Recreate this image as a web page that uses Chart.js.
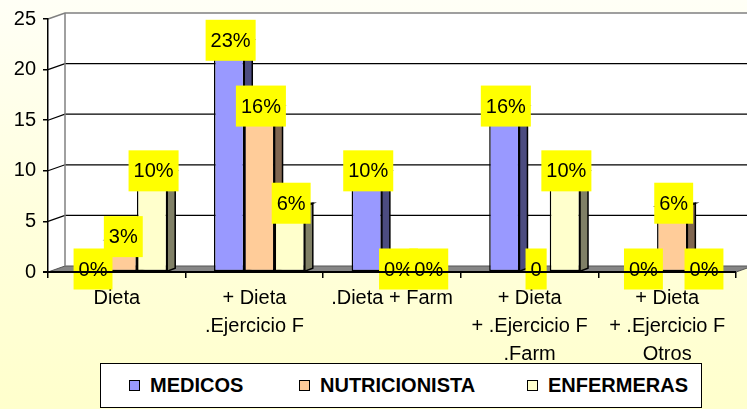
<!DOCTYPE html>
<html>
<head>
<meta charset="utf-8">
<script src="https://cdn.jsdelivr.net/npm/chart.js@4.4.1/dist/chart.umd.min.js"></script>
<style>
html,body{margin:0;padding:0;}
body{width:747px;height:409px;overflow:hidden;position:relative;
background:linear-gradient(180deg,#fffff6 0%,#ffffdc 55%,#ffffcc 100%);
font-family:"Liberation Sans",Arial,sans-serif;}
#chart{position:absolute;left:0;top:0;}
#legend{position:absolute;left:100px;top:363px;width:602px;height:45px;background:#fff;
border:1px solid #000;box-sizing:border-box;}
.item{position:absolute;top:0;height:43px;display:flex;align-items:center;
font-weight:bold;font-size:20px;color:#000;}
.sq{width:9px;height:9px;border:1px solid #000;margin-right:10px;}
</style>
</head>
<body>
<canvas id="chart" width="747" height="409"></canvas>
<div id="legend"></div>
<script>
// data (bar heights in %, labels as printed)
let categories = [
["Dieta"],
["+ Dieta", ".Ejercicio F"],
[".Dieta + Farm"],
["+ Dieta", "+ .Ejercicio F", ".Farm"],
["+ Dieta", "+ .Ejercicio F", "Otros"]
];
let seriesNames = ["MEDICOS", "NUTRICIONISTA", "ENFERMERAS"];
let medicos = [0, 22.6, 9.7, 16.1, 0];
let nutricionista = [3.2, 16.1, 0, 0, 6.5];
let enfermeras = [9.7, 6.5, 0, 9.7, 0];
let medicosLabels = ["0%", "23%", "10%", "16%", "0%"];
let nutricionistaLabels = ["3%", "16%", "0%", "0", "6%"];
let enfermerasLabels = ["10%", "6%", "0%", "10%", "0%"];
let yTicks = [0, 5, 10, 15, 20, 25];

let frontColors = ["#9999ff", "#ffcc99", "#ffffcc"];
let sideColors = ["#4c4c80", "#806650", "#808066"];
let topColors = ["#7a7acc", "#cca37a", "#cccca3"];
let pointLabels = [medicosLabels, nutricionistaLabels, enfermerasLabels];

const FONT = '"Liberation Sans", Arial, sans-serif';
const DX = 17, DY = 6;      // wall depth
const BDX = 8, BDY = 3;     // bar depth
const SHIFT = 5;            // bars sit a bit right in 3d view

// legend
let legend = document.getElementById("legend");
let lefts = [28, 198, 426];
seriesNames.forEach((name, i) => {
let d = document.createElement("div");
d.className = "item";
d.style.left = lefts[i] + "px";
d.innerHTML = '<span class="sq" style="background:' + frontColors[i] + '"></span>' + name;
legend.appendChild(d);
});

const walls = {
id: "walls",
beforeDraw(chart){
const ctx = chart.ctx;
const a = chart.chartArea;
const y = chart.scales.y;
const L = a.left, R = a.right;
const T = y.getPixelForValue(25), B = y.getPixelForValue(0);
ctx.save();
// side + back wall
ctx.fillStyle = "#ffffff";
ctx.beginPath();
ctx.moveTo(L, T);
ctx.lineTo(L + DX, T - DY);
ctx.lineTo(R + DX, T - DY);
ctx.lineTo(R + DX, B - DY);
ctx.lineTo(L, B);
ctx.closePath();
ctx.fill();
// floor
ctx.fillStyle = "#868686";
ctx.beginPath();
ctx.moveTo(L, B);
ctx.lineTo(L + DX, B - DY);
ctx.lineTo(R + DX, B - DY);
ctx.lineTo(R, B);
ctx.closePath();
ctx.fill();
ctx.strokeStyle = "#555";
ctx.lineWidth = 1;
ctx.stroke();
// grid lines
yTicks.forEach(v => {
if(v === 0) return;
const p = y.getPixelForValue(v);
ctx.strokeStyle = v === 25 ? "#808080" : "#000";
ctx.lineWidth = v === 25 ? 1.5 : 1.2;
ctx.beginPath();
ctx.moveTo(L, p);
ctx.lineTo(L + DX, p - DY);
ctx.lineTo(R + DX, p - DY);
ctx.stroke();
});
// back wall left edge
ctx.strokeStyle = "#808080";
ctx.lineWidth = 1.5;
ctx.beginPath();
ctx.moveTo(L + DX, T - DY);
ctx.lineTo(L + DX, B - DY);
ctx.stroke();
ctx.restore();
}
};

const bars3d = {
id: "bars3d",
beforeDatasetsDraw(chart){
const ctx = chart.ctx;
ctx.save();
ctx.translate(SHIFT, 0);
chart.data.datasets.forEach((ds, i) => {
chart.getDatasetMeta(i).data.forEach((bar, j) => {
if(!ds.data[j]) return;
const l = bar.x - bar.width / 2, r = bar.x + bar.width / 2;
ctx.strokeStyle = "#000";
ctx.lineWidth = 1.5;
// side face
ctx.fillStyle = sideColors[i];
ctx.beginPath();
ctx.moveTo(r, bar.y);
ctx.lineTo(r + BDX, bar.y - BDY);
ctx.lineTo(r + BDX, bar.base - BDY);
ctx.lineTo(r, bar.base);
ctx.closePath();
ctx.fill();
ctx.stroke();
// top face
ctx.fillStyle = topColors[i];
ctx.beginPath();
ctx.moveTo(l, bar.y);
ctx.lineTo(l + BDX, bar.y - BDY);
ctx.lineTo(r + BDX, bar.y - BDY);
ctx.lineTo(r, bar.y);
ctx.closePath();
ctx.fill();
ctx.stroke();
});
});
},
afterDatasetsDraw(chart){
const ctx = chart.ctx;
ctx.font = "20px " + FONT;
ctx.textAlign = "center";
ctx.textBaseline = "middle";
chart.data.datasets.forEach((ds, i) => {
chart.getDatasetMeta(i).data.forEach((bar, j) => {
const txt = pointLabels[i][j];
const w = ctx.measureText(txt).width + 10;
const h = 41;
const cx = bar.x + 1.5;
const cy = bar.y - 3;
ctx.fillStyle = "#ffff00";
ctx.fillRect(cx - w / 2, cy - h / 2, w, h);
ctx.fillStyle = "#000";
ctx.fillText(txt, cx, cy + 1);
});
});
ctx.restore();
// front edge of the floor
const a = chart.chartArea;
const B = chart.scales.y.getPixelForValue(0);
ctx.save();
ctx.strokeStyle = "#000";
ctx.lineWidth = 2;
ctx.beginPath();
ctx.moveTo(a.left - 5, B);
ctx.lineTo(a.right, B);
ctx.stroke();
ctx.restore();
}
};

new Chart(document.getElementById("chart"), {
type: "bar",
data: {
labels: categories,
datasets: [
{label: seriesNames[0], data: medicos, backgroundColor: frontColors[0]},
{label: seriesNames[1], data: nutricionista, backgroundColor: frontColors[1]},
{label: seriesNames[2], data: enfermeras, backgroundColor: frontColors[2]}
].map(d => Object.assign(d, {
borderColor: "#000",
borderWidth: 1.5,
borderSkipped: false,
categoryPercentage: 0.66,
barPercentage: 1.0
}))
},
options: {
responsive: false,
animation: false,
layout: {padding: {top: 17, right: 11, left: 0, bottom: 0}},
plugins: {
legend: {display: false},
tooltip: {enabled: false}
},
scales: {
x: {
grid: {display: true, drawOnChartArea: false, drawTicks: true, tickLength: 6, color: "#000", lineWidth: 1.5, offset: true},
border: {display: false},
ticks: {color: "#000", font: {family: FONT, size: 20, lineHeight: 1.4}, padding: 6, maxRotation: 0, autoSkip: false},
afterFit(s){ s.height = 137; }
},
y: {
min: 0,
max: 25,
afterBuildTicks(s){ s.ticks = yTicks.map(v => ({value: v})); },
grid: {drawOnChartArea: false, tickLength: 5, color: "#000", lineWidth: 1.5},
border: {display: true, color: "#000", width: 1.5},
ticks: {color: "#000", font: {family: FONT, size: 20}, padding: 7},
afterFit(s){ s.width = 48; }
}
}
},
plugins: [walls, bars3d]
});
</script>
</body>
</html>
